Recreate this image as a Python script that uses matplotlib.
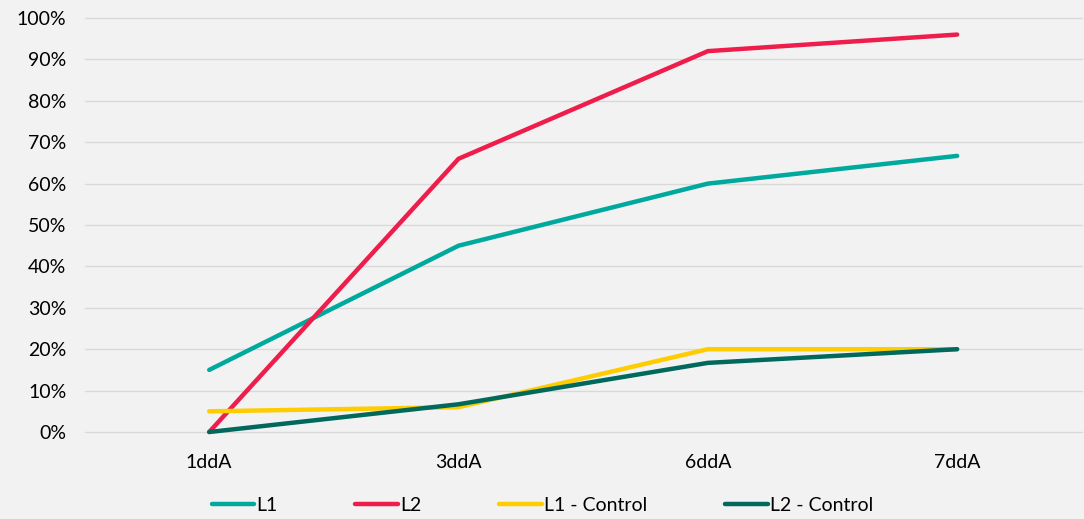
import matplotlib
matplotlib.use("Agg")
import matplotlib.pyplot as plt
from matplotlib.ticker import PercentFormatter

categories = ["1ddA", "3ddA", "6ddA", "7ddA"]
l1 = [0.15, 0.45, 0.60, 0.667]
l2 = [0.0, 0.66, 0.92, 0.96]
l1_control = [0.05, 0.06, 0.20, 0.20]
l2_control = [0.0, 0.067, 0.167, 0.20]

series = [("L1", l1, "#00A99D"),
          ("L2", l2, "#EE1D4B"),
          ("L1 - Control", l1_control, "#FFCC00"),
          ("L2 - Control", l2_control, "#00695C")]

plt.rcParams['font.family'] = ['Lato', 'DejaVu Sans']
bg = "#f2f2f2"

fig = plt.figure(figsize=(10.84, 5.19), dpi=100, facecolor=bg)
ax = fig.add_axes([0.078, 0.1676, 0.92, 0.7977], facecolor=bg)

x = range(len(categories))
for name, vals, c in series:
    ax.plot(x, vals, color=c, lw=3.2, label=name, solid_capstyle='round',
            solid_joinstyle='miter', clip_on=False)

ax.set_xlim(-0.5, len(categories) - 0.5)
ax.set_ylim(0, 1)
ax.set_yticks([i / 10 for i in range(11)])
ax.yaxis.set_major_formatter(PercentFormatter(1.0, decimals=0))
ax.set_xticks(list(x))
ax.set_xticklabels(categories)
ax.grid(axis='y', color='#d9d9d9', lw=1)
for gl in ax.yaxis.get_gridlines():
    gl.set_clip_on(False)
ax.set_axisbelow(True)
for s in ax.spines.values():
    s.set_visible(False)
ax.tick_params(length=0, labelsize=14, colors='#000000')
ax.tick_params(axis='y', pad=13)
ax.tick_params(axis='x', pad=16)

ax.legend(loc='center', bbox_to_anchor=(0.459, -0.178), ncol=4, frameon=False,
          fontsize=14, handlelength=2.2, handletextpad=0.1, columnspacing=4.0)

fig.savefig("out.png", dpi=100, facecolor=bg)
